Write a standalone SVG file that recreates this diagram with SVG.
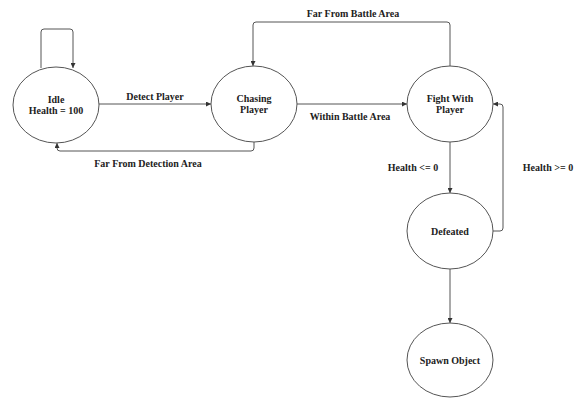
<svg xmlns="http://www.w3.org/2000/svg" width="577" height="398" viewBox="0 0 577 398">
<defs>
<marker id="ah" viewBox="0 0 10 10" refX="10" refY="5" markerWidth="5" markerHeight="5" orient="auto" markerUnits="userSpaceOnUse"><path d="M0,0 L10,5 L0,10 z" fill="#333"/></marker>
<style>
.st{fill:#fff;stroke:#555;stroke-width:1}
.t{font-family:"Liberation Serif",serif;font-weight:bold;font-size:10px;fill:#222;text-anchor:middle}
.c{fill:none;stroke:#555;stroke-width:1}
</style>
</defs>
<rect width="577" height="398" fill="#fff"/>
<g id="connectors">
<path class="c" d="M41,68 V32 Q41,29 44,29 H70 Q73,29 73,32 V68" marker-end="url(#ah)"/>
<path class="c" d="M99,104 H211" marker-end="url(#ah)"/>
<path class="c" d="M297,104 H407" marker-end="url(#ah)"/>
<path class="c" d="M450,66 V25 Q450,22 447,22 H256 Q253,22 253,25 V66" marker-end="url(#ah)"/>
<path class="c" d="M254,142 V148 Q254,151 251,151 H60 Q57,151 57,148 V143" marker-end="url(#ah)"/>
<path class="c" d="M450,142 V193" marker-end="url(#ah)"/>
<path class="c" d="M493,231 H500 Q503,231 503,228 V107 Q503,104 500,104 H493" marker-end="url(#ah)"/>
<path class="c" d="M450,269 V323" marker-end="url(#ah)"/>
<text class="t" x="155" y="100">Detect Player</text>
<text class="t" x="350" y="120">Within Battle Area</text>
<text class="t" x="353" y="17">Far From Battle Area</text>
<text class="t" x="148" y="167">Far From Detection Area</text>
<text class="t" x="413" y="171">Health &lt;= 0</text>
<text class="t" x="548" y="171">Health &gt;= 0</text>
</g>
<g id="idle">
<ellipse class="st" cx="56" cy="105" rx="43" ry="38"/>
<text class="t" x="56" y="103">Idle</text>
<text class="t" x="56" y="114">Health = 100</text>
</g>
<g id="chasing">
<ellipse class="st" cx="254" cy="104" rx="43" ry="38"/>
<text class="t" x="254" y="102">Chasing</text>
<text class="t" x="254" y="113">Player</text>
</g>
<g id="fight">
<ellipse class="st" cx="450" cy="104" rx="43" ry="38"/>
<text class="t" x="450" y="102">Fight With</text>
<text class="t" x="450" y="113">Player</text>
</g>
<g id="defeated">
<ellipse class="st" cx="450" cy="231" rx="43" ry="38"/>
<text class="t" x="450" y="235">Defeated</text>
</g>
<g id="spawn">
<ellipse class="st" cx="450" cy="360" rx="43" ry="37"/>
<text class="t" x="450" y="364">Spawn Object</text>
</g>
</svg>
